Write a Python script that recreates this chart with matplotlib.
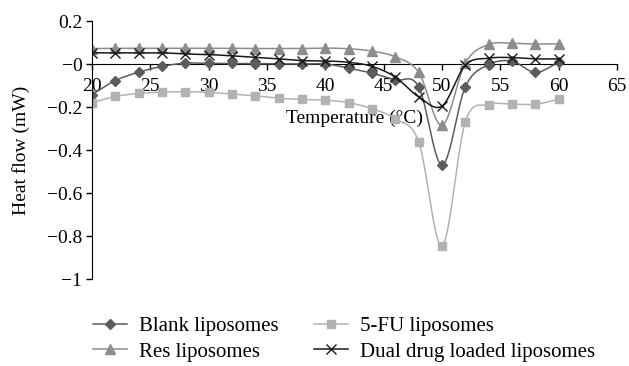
import numpy as np
import matplotlib.pyplot as plt
from matplotlib.ticker import FuncFormatter

plt.rcParams['font.family'] = ['Liberation Serif', 'DejaVu Serif']
plt.rcParams['font.size'] = 14

# Data
temperature = [20, 22, 24, 26, 28, 30, 32, 34, 36, 38, 40,
               42, 44, 46, 48, 50, 52, 54, 56, 58, 60]
blank = [-0.142, -0.077, -0.038, -0.011, 0.004, 0.003, 0.003, 0.002, 0.001, 0.0, 0.0,
         -0.019, -0.043, -0.074, -0.106, -0.47, -0.106, -0.003, 0.013, -0.039, 0.008]
fu5 = [-0.18, -0.151, -0.137, -0.131, -0.129, -0.132, -0.14, -0.148, -0.159, -0.165, -0.168,
       -0.18, -0.208, -0.255, -0.362, -0.845, -0.268, -0.189, -0.187, -0.187, -0.164]
res = [0.072, 0.073, 0.073, 0.073, 0.073, 0.073, 0.073, 0.072, 0.072, 0.072, 0.074,
       0.071, 0.06, 0.033, -0.039, -0.285, 0.005, 0.091, 0.096, 0.093, 0.094]
dual = [0.052, 0.052, 0.052, 0.052, 0.047, 0.044, 0.038, 0.031, 0.024, 0.016, 0.014,
        0.008, -0.011, -0.061, -0.153, -0.195, -0.005, 0.027, 0.03, 0.024, 0.024]

series_names = ['Blank liposomes', '5-FU liposomes', 'Res liposomes', 'Dual drug loaded liposomes']
series_data = [blank, fu5, res, dual]

N_SEG = 20


def smooth(x, y, n=N_SEG):
    # Catmull-Rom curve through the points (like Excel's smoothed lines)
    x = np.asarray(x, float)
    y = np.asarray(y, float)
    px = np.concatenate([[2 * x[0] - x[1]], x, [2 * x[-1] - x[-2]]])
    py = np.concatenate([[2 * y[0] - y[1]], y, [2 * y[-1] - y[-2]]])
    t = np.linspace(0, 1, n, endpoint=False)
    xs, ys = [], []
    for i in range(1, len(px) - 2):
        for p, out in ((px, xs), (py, ys)):
            p0, p1, p2, p3 = p[i - 1], p[i], p[i + 1], p[i + 2]
            out.append(0.5 * ((2 * p1) + (-p0 + p2) * t
                              + (2 * p0 - 5 * p1 + 4 * p2 - p3) * t ** 2
                              + (-p0 + 3 * p1 - 3 * p2 + p3) * t ** 3))
    xs = np.concatenate(xs + [[x[-1]]])
    ys = np.concatenate(ys + [[y[-1]]])
    return xs, ys


styles = [
    dict(color='#5c5c5c', marker='D', markersize=5.5),
    dict(color='#b2b2b2', marker='s', markersize=5.5),
    dict(color='#8c8c8c', marker='^', markersize=7),
    dict(color='#1a1a1a', marker='x', markersize=7, markeredgewidth=1.0),
]

fig = plt.figure(figsize=(6.29, 3.66), dpi=100)
ax = fig.add_axes([0.1463, 0.2377, 0.8347, 0.7049])

for name, vals, st in zip(series_names, series_data, styles):
    xs, ys = smooth(temperature, vals)
    ax.plot(xs, ys, lw=1.1, markevery=slice(0, None, N_SEG), label=name, **st)

ax.set_xlim(20, 65)
ax.set_ylim(-1, 0.2)
ax.set_xticks(np.arange(20, 66, 5))
ax.set_yticks(np.arange(-1, 0.21, 0.2))
ax.yaxis.set_major_formatter(FuncFormatter(lambda v, p: ('%g' % round(v, 2)).replace('-', '\u2212')))

ax.spines['top'].set_visible(False)
ax.spines['right'].set_visible(False)
ax.spines['bottom'].set_position(('data', 0))
ax.spines['bottom'].set_zorder(0)
ax.tick_params(direction='out', length=4, width=1, pad=3)
ax.tick_params(axis='x', pad=6)

ax.set_xlabel('Temperature (\u00b0C)')
ax.xaxis.set_label_coords(0.5, 0.658)
ax.set_ylabel('Heat flow (mW)')
ax.yaxis.set_label_coords(-0.118, 0.5)

handles, labels = ax.get_legend_handles_labels()
order = [0, 2, 1, 3]
fig.legend([handles[i] for i in order], [labels[i] for i in order],
           ncol=2, frameon=False, loc='upper left', bbox_to_anchor=(0.148, 0.135),
           fontsize=15, handlelength=1.63, handletextpad=0.58, columnspacing=1.68,
           labelspacing=0.28, borderaxespad=0, borderpad=0)

fig.savefig('out.png', dpi=100)
